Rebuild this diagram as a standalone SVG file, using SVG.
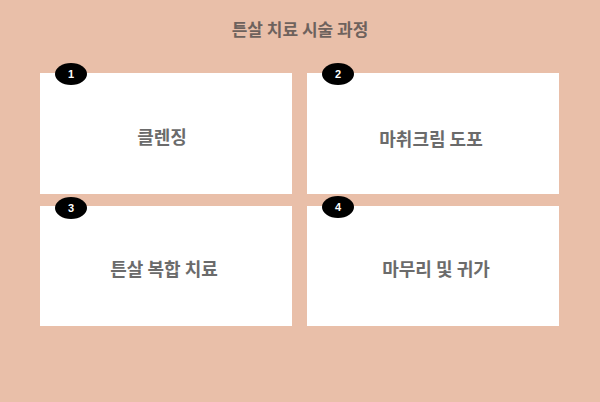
<svg xmlns="http://www.w3.org/2000/svg" width="600" height="402" viewBox="0 0 600 402">
<style>
.box{fill:#fff}
.lbl{font-family:"Noto Sans CJK KR","Noto Sans",sans-serif;font-size:18px;font-weight:bold;fill:#6b6b6b;text-anchor:middle;dominant-baseline:central}
.bd{fill:#000}
.num{font-family:"Liberation Sans",sans-serif;font-size:11px;font-weight:bold;fill:#fff;text-anchor:middle;dominant-baseline:central}
</style>
<rect width="600" height="402" fill="#E9BFA9"/>
<text x="300" y="28" class="lbl" style="font-size:17px;fill:#6e625d">튼살 치료 시술 과정</text>
<g id="n1"><rect class="box" x="40" y="73" width="252" height="121"/><text class="lbl" x="162" y="136">클렌징</text><ellipse class="bd" cx="71" cy="74" rx="16" ry="11"/><text class="num" x="71" y="74">1</text></g>
<g id="n2"><rect class="box" x="307" y="73" width="252" height="121"/><text class="lbl" x="431" y="138">마취크림 도포</text><ellipse class="bd" cx="338" cy="74" rx="16" ry="11"/><text class="num" x="338" y="74">2</text></g>
<g id="n3"><rect class="box" x="40" y="206" width="252" height="120"/><text class="lbl" x="164" y="268">튼살 복합 치료</text><ellipse class="bd" cx="71" cy="208" rx="16" ry="11"/><text class="num" x="71" y="208">3</text></g>
<g id="n4"><rect class="box" x="307" y="206" width="252" height="120"/><text class="lbl" x="436" y="268">마무리 및 귀가</text><ellipse class="bd" cx="338" cy="207" rx="16" ry="11"/><text class="num" x="338" y="207">4</text></g>
<g id="connectors"/>
</svg>
